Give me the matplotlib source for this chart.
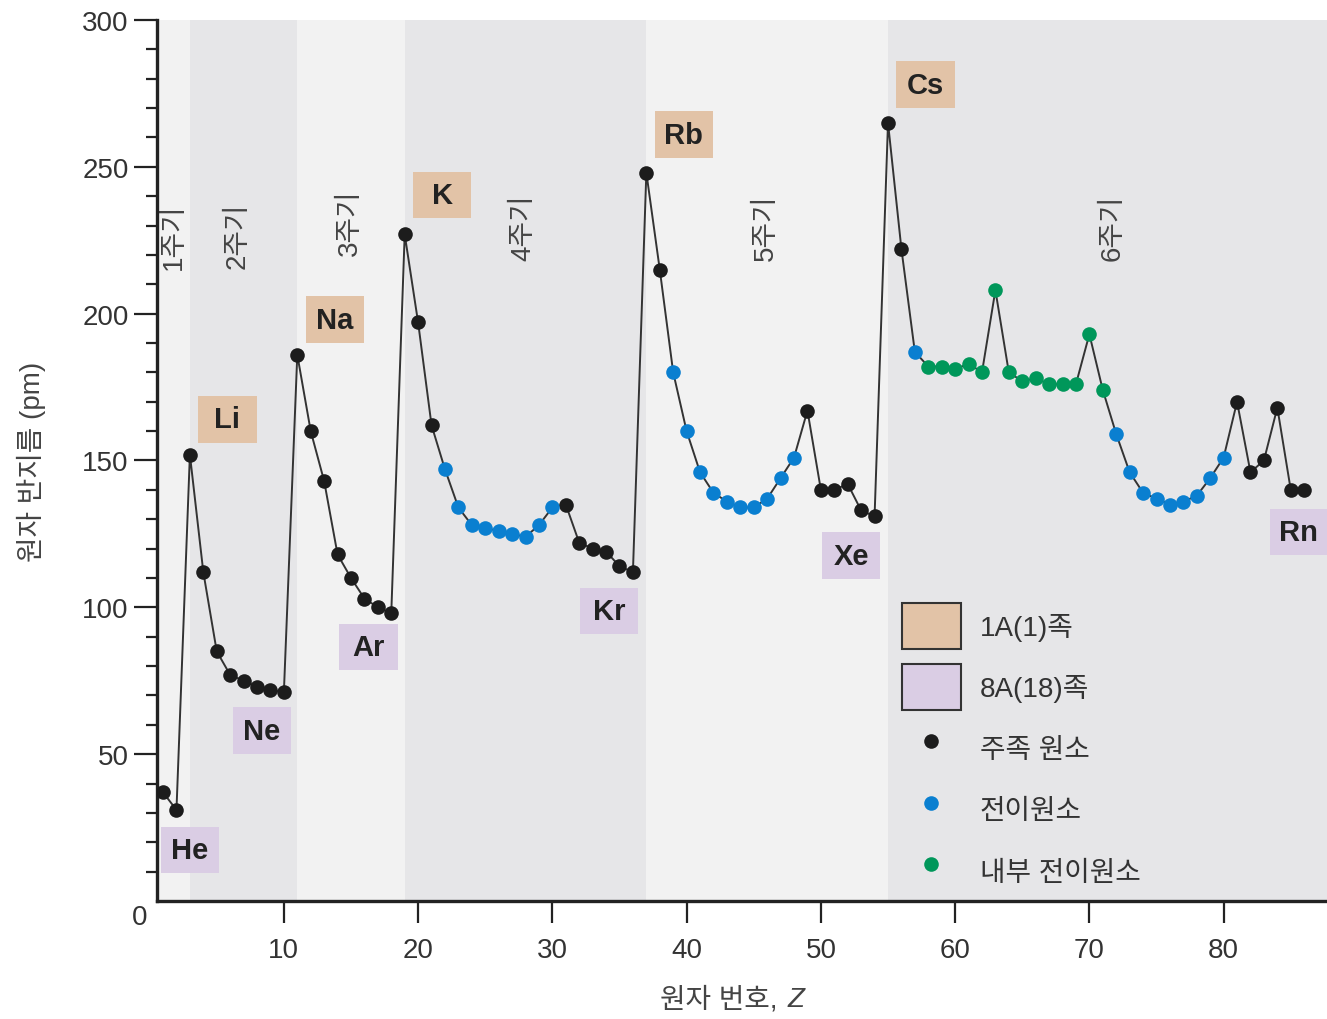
import numpy as np
import matplotlib
matplotlib.use("Agg")
import matplotlib.pyplot as plt
from matplotlib.patches import Patch, Rectangle
from matplotlib.lines import Line2D

plt.rcParams['font.family'] = ['Liberation Sans', 'Noto Sans CJK KR', 'DejaVu Sans']

# atomic radius (pm) for Z = 1..86
radius = [37, 31,
          152, 112, 85, 77, 75, 73, 72, 71,
          186, 160, 143, 118, 110, 103, 100, 98,
          227, 197, 162, 147, 134, 128, 127, 126, 125, 124, 128, 134, 135, 122, 120, 119, 114, 112,
          248, 215, 180, 160, 146, 139, 136, 134, 134, 137, 144, 151, 167, 140, 140, 142, 133, 131,
          265, 222, 187, 182, 182, 181, 183, 180, 208, 180, 177, 178, 176, 176, 176, 193, 174,
          159, 146, 139, 137, 135, 136, 138, 144, 151, 170, 146, 150, 168, 140, 140]
# m = main group, t = transition, f = inner transition
category = ('mm' + 'm' * 8 + 'm' * 8
            + 'mmm' + 't' * 9 + 'm' * 6
            + 'mm' + 't' * 10 + 'm' * 6
            + 'mm' + 't' + 'f' * 14 + 't' * 9 + 'm' * 6)
z = np.arange(1, len(radius) + 1)

period_starts = [3, 11, 19, 37, 55]
period_labels = ['1주기', '2주기', '3주기', '4주기', '5주기', '6주기']
period_label_x = [1.8, 6.55, 14.95, 27.85, 45.9, 71.7]
period_label_top = [238, 238, 242.5, 241, 241, 241]

alkali = ['Li', 'Na', 'K', 'Rb', 'Cs']
alkali_pos = [(5.8, 164), (13.8, 198), (21.8, 240.5), (39.8, 261), (57.8, 278)]
noble = ['He', 'Ne', 'Ar', 'Kr', 'Xe', 'Rn']
noble_pos = [(3.0, 17.3), (8.35, 58), (16.3, 86.5), (34.2, 98.7), (52.25, 117.6), (85.6, 125.6)]

legend_labels = ['1A(1)족', '8A(18)족', '주족 원소', '전이원소', '내부 전이원소']

tan = '#e2c3a7'
lilac = '#dacde4'
cat_colors = {'m': '#1c1c1c', 't': '#0a7fd0', 'f': '#00975a'}
light_bg = '#f2f2f2'
dark_bg = '#e6e6e8'
txt = '#333333'

fig = plt.figure(figsize=(13.27, 10.2), dpi=100)
ax = fig.add_axes([157 / 1327, 1 - 902 / 1020, 1 - 157 / 1327, (902 - 21) / 1020])
xmin, xmax = 0.55, 87.7
ax.set_xlim(xmin, xmax)
ax.set_ylim(0, 300)

# period bands
edges = [xmin] + period_starts + [xmax]
for i in range(len(edges) - 1):
    ax.axvspan(edges[i], edges[i + 1], color=light_bg if i % 2 == 0 else dark_bg, lw=0, zorder=0)

for lab, x, top in zip(period_labels, period_label_x, period_label_top):
    ax.text(x, top, lab, rotation=90, ha='center', va='top', fontsize=20, color='#444444', zorder=1)

ax.plot(z, radius, color='#333333', lw=1.4, zorder=2)
cat = np.array(list(category))
r = np.array(radius)
for c in ['m', 't', 'f']:
    sel = cat == c
    ax.plot(z[sel], r[sel], 'o', color=cat_colors[c], ms=10.5, mew=0, zorder=3)

bw, bh = 4.35, 15.8
for names, pos, col in [(alkali, alkali_pos, tan), (noble, noble_pos, lilac)]:
    for n, (x, y) in zip(names, pos):
        ax.add_patch(Rectangle((x - bw / 2, y - bh / 2), bw, bh, fc=col, ec='none', zorder=4, clip_on=False))
        ax.text(x, y, n, ha='center', va='center', fontsize=21, fontweight='bold', color='#222222', zorder=5)

for s in ['top', 'right']:
    ax.spines[s].set_visible(False)
for s in ['left', 'bottom']:
    ax.spines[s].set_linewidth(2.4)
    ax.spines[s].set_color('#222222')

ax.set_xticks(np.arange(10, 81, 10))
ax.set_yticks(np.arange(50, 301, 50))
ax.set_yticks(np.arange(10, 300, 10), minor=True)
ax.tick_params(axis='x', direction='out', length=16, width=1.6, pad=10, labelsize=20, labelcolor=txt, color='#222222')
ax.tick_params(axis='y', which='major', direction='out', length=16.5, width=1.6, pad=4, labelsize=20, labelcolor=txt, color='#222222')
ax.tick_params(axis='y', which='minor', direction='out', length=8, width=1.6, color='#222222')
ax.text(-0.0147, -0.0185, '0', transform=ax.transAxes, ha='center', va='center', fontsize=20, color=txt)

ax.set_ylabel('원자 반지름 (pm)', fontsize=20, color='#444444', labelpad=26)
# x label: Korean part + italic Z
fig.text(778 / 1327, 1 - 1000 / 1020, '원자 번호,', ha='right', va='center', fontsize=20, color='#444444')
fig.text(788 / 1327, 1 - 1000 / 1020, 'Z', ha='left', va='center', fontsize=20, color='#444444', style='italic')

handles = [Patch(fc=tan, ec='#333333', lw=1.5),
           Patch(fc=lilac, ec='#333333', lw=1.5),
           Line2D([], [], ls='none', marker='o', color=cat_colors['m'], ms=10.5, mew=0),
           Line2D([], [], ls='none', marker='o', color=cat_colors['t'], ms=10.5, mew=0),
           Line2D([], [], ls='none', marker='o', color=cat_colors['f'], ms=10.5, mew=0)]
leg = ax.legend(handles, legend_labels, loc='upper left', bbox_to_anchor=(902 / 1327, 1 - 604 / 1020),
                bbox_transform=fig.transFigure, frameon=False, fontsize=20, borderpad=0, borderaxespad=0,
                handlelength=2.12, handleheight=2.17, labelspacing=0.55, handletextpad=0.68)
for t in leg.get_texts():
    t.set_color(txt)

fig.savefig('out.png', dpi=100)
